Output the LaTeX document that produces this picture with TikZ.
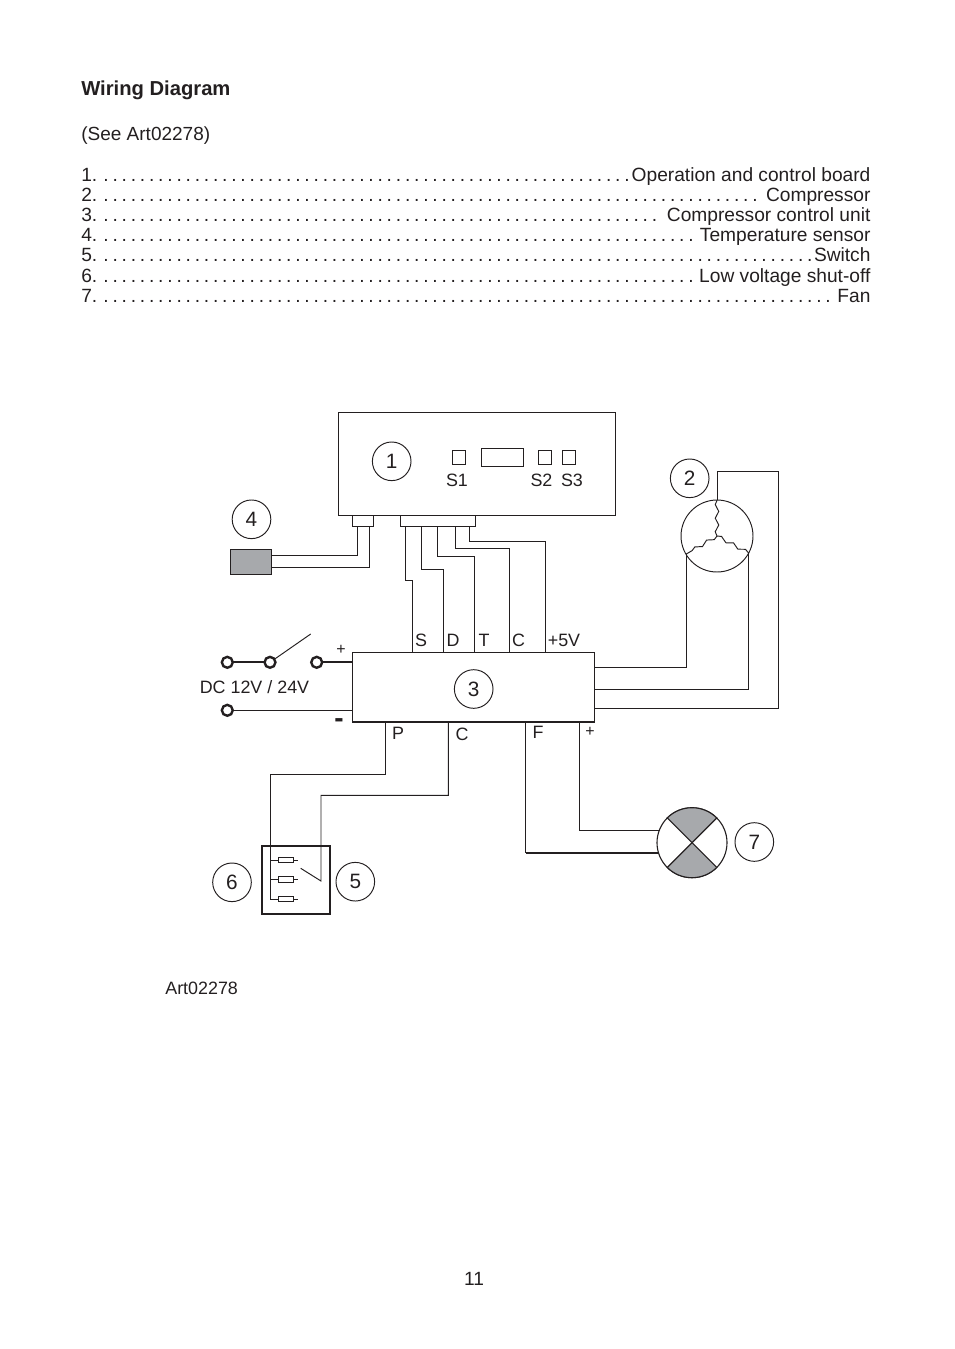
\documentclass[tikz,border=0pt]{standalone}
\usepackage{fontspec}
\setmainfont{Liberation Sans}
\usetikzlibrary{decorations.pathmorphing}
\definecolor{ink}{HTML}{231F20}
\definecolor{plate}{HTML}{A7A9AC}
\newcommand{\partrow}[2]{\hbox to 17.358cm{#1\leaders\hbox to 5.72pt{\hss.}\hfill#2}}
\tikzset{
	x=0.022cm, y=-0.022cm,
	wire/.style={line width=0.6pt, color=ink, line join=miter},
	heavywire/.style={line width=1.2pt, color=ink},
	unit/.style={draw=ink, line width=0.6pt, rectangle, inner sep=0pt, outer sep=0pt, anchor=north west},
	callout/.style={draw=ink, line width=0.6pt, circle, inner sep=0pt, outer sep=0pt, minimum size=0.85cm, text=ink, font=\fontsize{13}{13}\selectfont},
	terminal/.style={draw=ink, line width=1.5pt, circle, inner sep=0pt, outer sep=0pt, minimum size=0.24cm},
	pushkey/.style={unit, line width=0.6pt, minimum width=0.29cm, minimum height=0.3cm},
	resistor/.style={draw=ink, line width=0.6pt, rectangle, inner sep=0pt, outer sep=0pt, minimum width=0.34cm, minimum height=0.13cm},
	tag/.style={text=ink, inner sep=0pt, font=\fontsize{11.2}{11}\selectfont},
	smalltag/.style={text=ink, inner sep=0pt, font=\fontsize{10}{10}\selectfont},
	rowtext/.style={text=ink, inner sep=0pt, anchor=base west, font=\fontsize{12}{12}\selectfont},
	winding/.style={line width=0.6pt, color=ink, decorate, decoration={snake, segment length=8.5pt, amplitude=1.1pt}},
}
\begin{document}
\begin{tikzpicture}
		%%%%% START %%%%%
		\useasboundingbox (0, 0) rectangle (954, 1349);
		
		\node[rowtext, font=\fontsize{12.65}{13}\selectfont\bfseries] (heading) at (81, 95) {Wiring Diagram};
		\node[rowtext, font=\fontsize{11.9}{12}\selectfont] (seeart) at (81, 140) {(See Art02278)};
		
		\node[rowtext] (row1) at (81, 181) {\partrow{1.}{Operation and control board}};
		\node[rowtext] (row2) at (81, 201.7) {\partrow{2.}{Compressor}};
		\node[rowtext] (row3) at (81, 221.7) {\partrow{3.}{\kern1pt Compressor control unit}};
		\node[rowtext] (row4) at (81, 241.7) {\partrow{4.}{Temperature sensor}};
		\node[rowtext] (row5) at (81, 261.7) {\partrow{5.}{Switch}};
		\node[rowtext] (row6) at (81, 282) {\partrow{6.}{Low voltage shut-off}};
		\node[rowtext] (row7) at (81, 302.3) {\partrow{7.}{Fan}};
		
		% control board
		\node[unit, minimum width=6.116cm, minimum height=2.266cm] (board) at (338, 412) {};
		\node[callout] (num1) at (391.7, 461.3) {1};
		\node[pushkey] (keyS1) at (452.3, 450.7) {};
		\node[unit, minimum width=0.924cm, minimum height=0.41cm] (display) at (481.7, 448) {};
		\node[pushkey] (keyS2) at (538.3, 450.7) {};
		\node[pushkey] (keyS3) at (562.2, 450.7) {};
		\node[tag] (labS1) at (457, 480) {S1};
		\node[tag] (labS2) at (541.5, 480) {S2};
		\node[tag] (labS3) at (572, 480) {S3};
		\node[unit, minimum width=0.462cm, minimum height=0.257cm] (plugA) at (352.7, 515) {};
		\node[unit, minimum width=1.659cm, minimum height=0.257cm] (plugB) at (400.3, 515) {};
		
		% temperature sensor
		\node[unit, fill=plate, minimum width=0.902cm, minimum height=0.55cm] (sensor) at (230.7, 549.3) {};
		\node[callout] (num4) at (251.5, 519.3) {4};
		\coordinate (sensorA) at (271.7, 555.7);
		\coordinate (sensorB) at (271.7, 567.7);
		\draw[wire, line width=0.9pt] (plugA.south -| 357.7, 0) |- (sensorA);
		\draw[wire, line width=0.9pt] (plugA.south -| 369.3, 0) |- (sensorB);
		
		% compressor control unit
		\node[unit, minimum width=5.333cm, minimum height=1.527cm] (ctrl) at (352.3, 652.3) {};
		\draw[heavywire] (ctrl.south west) -- (ctrl.south east);
		\node[callout] (num3) at (473.7, 689) {3};
		
		\draw[wire] (plugB.south -| 405.3, 0) -- ++(0, 53.7) -| (ctrl.north -| 412.3, 0);
		\draw[wire] (plugB.south -| 421, 0) -- ++(0, 42.3) -| (ctrl.north -| 443.3, 0);
		\draw[wire] (plugB.south -| 437.7, 0) -- ++(0, 29.3) -| (ctrl.north -| 474.5, 0);
		\draw[wire] (plugB.south -| 455.7, 0) -- ++(0, 21.3) -| (ctrl.north -| 509, 0);
		\draw[wire] (plugB.south -| 469.7, 0) -- ++(0, 14.6) -| (ctrl.north -| 545.3, 0);
		\node[tag] (labS) at (421, 640) {S};
		\node[tag] (labD) at (453, 640) {D};
		\node[tag] (labT) at (484, 640.5) {T};
		\node[tag] (labC) at (518.5, 640) {C};
		\node[tag] (lab5V) at (564, 640) {+5V};
		
		% compressor
		\node[draw=ink, line width=0.6pt, circle, inner sep=0pt, outer sep=0pt, minimum size=1.584cm] (motor) at (717, 536) {};
		\node[callout] (num2) at (689.7, 478.3) {2};
		\coordinate (coilL) at (686.3, 554);
		\coordinate (coilR) at (748.7, 553);
		\coordinate (bendT) at (778, 471);
		\draw[winding] (motor.center) -- (motor.north);
		\draw[winding] (motor.center) -- (coilL);
		\draw[winding] (motor.center) -- (coilR);
		\draw[wire] (motor.north) |- (bendT) |- (ctrl.east |- 0, 708.3);
		\draw[wire] (coilL) |- (ctrl.east |- 0, 667.7);
		\draw[wire] (coilR) |- (ctrl.east |- 0, 689.3);
		
		% supply and main switch
		\node[terminal] (termA) at (227.3, 662.3) {};
		\node[terminal] (termB) at (270, 662.3) {};
		\node[terminal] (termC) at (316.7, 662.3) {};
		\node[terminal] (termD) at (227.3, 710.3) {};
		\coordinate (leverEnd) at (310.7, 634);
		\draw[heavywire] (termA) -- (termB);
		\draw[wire] (termB) -- (leverEnd);
		\draw[heavywire] (termC) -- (ctrl.west |- termC);
		\draw[wire] (termD) -- (ctrl.west |- termD);
		\node[smalltag] (labPlus) at (341, 650) {+};
		\node[tag] (labDC) at (254.5, 687) {DC 12V / 24V};
		\node[text=ink, inner sep=0pt, font=\fontsize{17.5}{17.5}\selectfont\bfseries] (labMinus) at (339, 723.5) {-};
		
		% shut-off and switch
		\node[unit, line width=1.1pt, minimum width=1.51cm, minimum height=1.509cm] (relay) at (261.7, 845.7) {};
		\node[callout] (num6) at (232, 882.3) {6};
		\node[callout] (num5) at (355.3, 881.7) {5};
		\node[resistor] (resA) at (286, 860) {};
		\node[resistor] (resB) at (286, 879.3) {};
		\node[resistor] (resC) at (286, 899) {};
		\coordinate (tapC) at (270.7, 899);
		\coordinate (contact) at (321, 881);
		\coordinate (blade) at (300.7, 868.3);
		\draw[wire] (ctrl.south -| 385.7, 0) -- ++(0, 52.3) -| (tapC) -- (resC.west);
		\draw[wire] (resA.west -| tapC) -- (resA.west);
		\draw[wire] (resB.west -| tapC) -- (resB.west);
		\draw[wire] (resA.east) -- ++(4, 0);
		\draw[wire] (resB.east) -- ++(4, 0);
		\draw[wire] (resC.east) -- ++(4, 0);
		\draw[wire] (ctrl.south -| 448.3, 0) -- ++(0, 73.6) -| (contact) -- (blade);
		\node[tag] (labP) at (398, 733) {P};
		\node[tag] (labCB) at (462, 734) {C};
		
		% fan
		\node[draw=ink, line width=0.7pt, circle, inner sep=0pt, outer sep=0pt, minimum size=1.54cm] (fan) at (692, 842.7) {};
		\filldraw[fill=plate, draw=ink, line width=0.7pt] (fan.center) -- (fan.45) arc[start angle=45, end angle=135, radius=0.77cm] -- cycle;
		\filldraw[fill=plate, draw=ink, line width=0.7pt] (fan.center) -- (fan.225) arc[start angle=225, end angle=315, radius=0.77cm] -- cycle;
		\node[callout] (num7) at (754.3, 842) {7};
		\coordinate (fanA) at (660, 830);
		\coordinate (fanB) at (657.5, 852.7);
		\coordinate (bendF) at (525.7, 852.7);
		\draw[wire] (ctrl.south -| 579.3, 0) |- (fanA);
		\draw[wire] (ctrl.south -| bendF) -- (bendF);
		\draw[heavywire] (bendF) -- (fanB);
		\node[tag] (labF) at (538, 732) {F};
		\node[smalltag] (labFp) at (590, 732) {+};
		
		\node[tag, anchor=base west] (artno) at (165, 994) {Art02278};
		\node[tag, font=\fontsize{12}{12}\selectfont] (pageno) at (474, 1279) {11};
		
		%%%%% END %%%%%
	\end{tikzpicture}
\end{document}
